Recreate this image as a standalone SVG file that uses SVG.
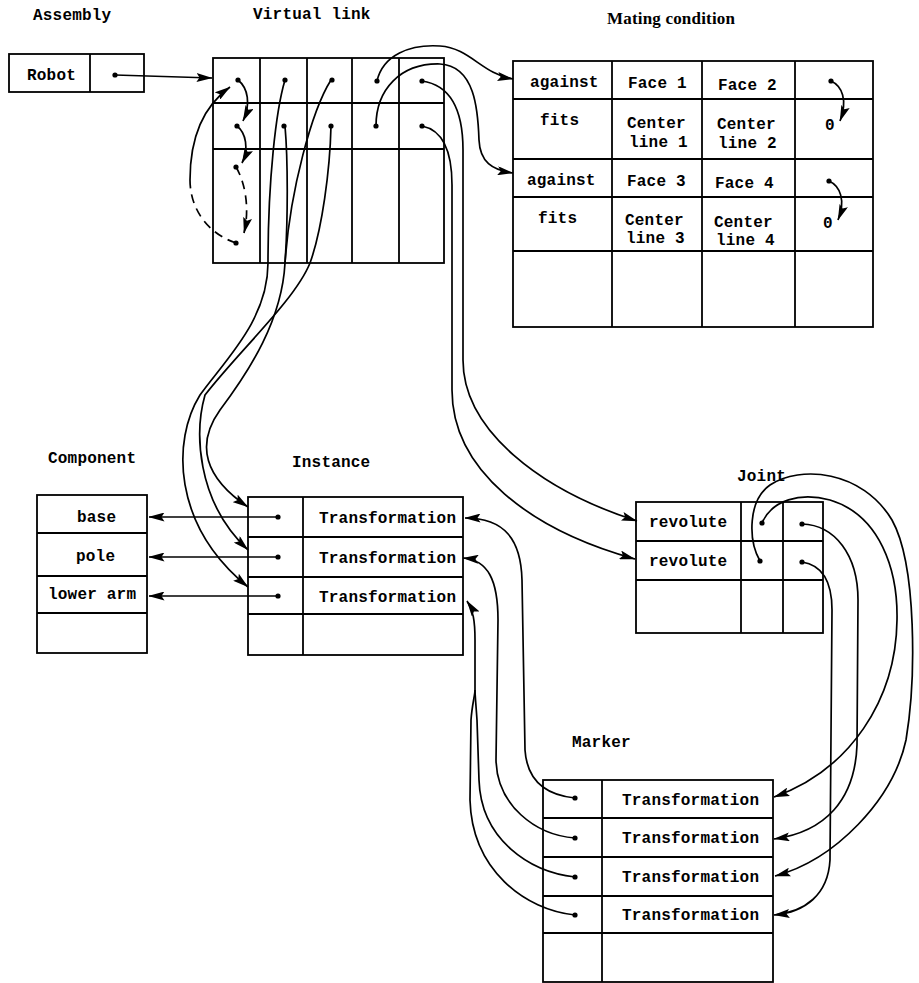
<svg xmlns="http://www.w3.org/2000/svg" width="919" height="983" viewBox="0 0 919 983">
<style>
.bg{fill:#fff}
.box{fill:none;stroke:#000;stroke-width:1.8}
.ln{stroke:#000;stroke-width:1.8}
.t{font-family:"Liberation Mono",monospace;font-weight:bold;font-size:16px;fill:#000;letter-spacing:0.2px}
.h{font-family:"Liberation Serif",serif;font-weight:bold;font-size:17px;fill:#000}
.c{fill:none;stroke:#000;stroke-width:1.7}
.d{stroke-dasharray:9 6}
.dot{fill:#000}
</style>
<defs>
<marker id="ah" viewBox="0 0 16 9" refX="15.5" refY="4.5" markerWidth="16" markerHeight="9" markerUnits="userSpaceOnUse" orient="auto">
<path d="M0,0 L16,4.5 L0,9 L3,4.5 z" fill="#000"/>
</marker>
</defs>
<rect class="bg" x="0" y="0" width="919" height="983"/>

<g id="assembly">
<text class="t" x="33" y="20">Assembly</text>
<rect class="box" x="9" y="54" width="135" height="38"/>
<line class="ln" x1="90" y1="54" x2="90" y2="92"/>
<text class="t" x="27" y="80">Robot</text>
</g>

<g id="virtual-link">
<text class="t" x="253" y="19">Virtual link</text>
<rect class="box" x="213" y="58" width="231" height="205"/>
<line class="ln" x1="260" y1="58" x2="260" y2="263"/>
<line class="ln" x1="307" y1="58" x2="307" y2="263"/>
<line class="ln" x1="352" y1="58" x2="352" y2="263"/>
<line class="ln" x1="399" y1="58" x2="399" y2="263"/>
<line class="ln" x1="213" y1="103" x2="444" y2="103"/>
<line class="ln" x1="213" y1="149" x2="444" y2="149"/>
</g>

<g id="mating-condition">
<text class="h" x="607" y="24" textLength="128" lengthAdjust="spacing">Mating condition</text>
<rect class="box" x="513" y="61" width="360" height="266"/>
<line class="ln" x1="513" y1="99" x2="873" y2="99"/>
<line class="ln" x1="513" y1="159" x2="873" y2="159"/>
<line class="ln" x1="513" y1="197" x2="873" y2="197"/>
<line class="ln" x1="513" y1="251" x2="873" y2="251"/>
<line class="ln" x1="612" y1="61" x2="612" y2="327"/>
<line class="ln" x1="702" y1="61" x2="702" y2="327"/>
<line class="ln" x1="795" y1="61" x2="795" y2="327"/>
<text class="t" x="530" y="87">against</text>
<text class="t" x="628" y="88">Face 1</text>
<text class="t" x="718" y="90">Face 2</text>
<text class="t" x="540" y="125">fits</text>
<text class="t" x="627" y="128">Center</text>
<text class="t" x="629" y="147">line 1</text>
<text class="t" x="717" y="129">Center</text>
<text class="t" x="718" y="148">line 2</text>
<text class="t" x="825" y="130">0</text>
<text class="t" x="527" y="185">against</text>
<text class="t" x="627" y="186">Face 3</text>
<text class="t" x="715" y="188">Face 4</text>
<text class="t" x="538" y="223">fits</text>
<text class="t" x="625" y="225">Center</text>
<text class="t" x="626" y="243">line 3</text>
<text class="t" x="714" y="227">Center</text>
<text class="t" x="716" y="245">line 4</text>
<text class="t" x="823" y="228">0</text>
</g>

<g id="component">
<text class="t" x="48" y="463">Component</text>
<rect class="box" x="37" y="495" width="110" height="158"/>
<line class="ln" x1="37" y1="533" x2="147" y2="533"/>
<line class="ln" x1="37" y1="576" x2="147" y2="576"/>
<line class="ln" x1="37" y1="613" x2="147" y2="613"/>
<text class="t" x="77" y="522">base</text>
<text class="t" x="76" y="561">pole</text>
<text class="t" x="48" y="599">lower arm</text>
</g>

<g id="instance">
<text class="t" x="292" y="467">Instance</text>
<rect class="box" x="248" y="497" width="215" height="158"/>
<line class="ln" x1="303" y1="497" x2="303" y2="655"/>
<line class="ln" x1="248" y1="537" x2="463" y2="537"/>
<line class="ln" x1="248" y1="577" x2="463" y2="577"/>
<line class="ln" x1="248" y1="614" x2="463" y2="614"/>
<text class="t" x="319" y="523">Transformation</text>
<text class="t" x="319" y="563">Transformation</text>
<text class="t" x="319" y="602">Transformation</text>
</g>

<g id="joint">
<text class="t" x="737" y="481">Joint</text>
<rect class="box" x="636" y="502" width="187" height="131"/>
<line class="ln" x1="741" y1="502" x2="741" y2="633"/>
<line class="ln" x1="783" y1="502" x2="783" y2="633"/>
<line class="ln" x1="636" y1="541" x2="823" y2="541"/>
<line class="ln" x1="636" y1="580" x2="823" y2="580"/>
<text class="t" x="649" y="527">revolute</text>
<text class="t" x="649" y="566">revolute</text>
</g>

<g id="marker">
<text class="t" x="572" y="747">Marker</text>
<rect class="box" x="543" y="780" width="230" height="202"/>
<line class="ln" x1="602" y1="780" x2="602" y2="982"/>
<line class="ln" x1="543" y1="818" x2="773" y2="818"/>
<line class="ln" x1="543" y1="857" x2="773" y2="857"/>
<line class="ln" x1="543" y1="896" x2="773" y2="896"/>
<line class="ln" x1="543" y1="933" x2="773" y2="933"/>
<text class="t" x="622" y="805">Transformation</text>
<text class="t" x="622" y="843">Transformation</text>
<text class="t" x="622" y="882">Transformation</text>
<text class="t" x="622" y="920">Transformation</text>
</g>

<g id="connectors">
<path class="c" marker-end="url(#ah)" d="M115,75 L212,78"/>
<path class="c" marker-end="url(#ah)" d="M238,80 C248,88 251,104 243,121"/>
<path class="c" marker-end="url(#ah)" d="M237,126 C246,133 249,149 242,163"/>
<path class="c d" marker-end="url(#ah)" d="M236,167 C245,182 250,208 244,233"/>
<path class="c d" d="M236,243 C206,233 190,207 190,180"/>
<path class="c" marker-end="url(#ah)" d="M190,180 C190,135 205,105 230,87"/>
<path class="c" marker-end="url(#ah)" d="M377,81 C383,55 410,44 440,46 C470,48 482,74 513,79"/>
<path class="c" marker-end="url(#ah)" d="M376,126 C376,90 400,63 440,64 C475,66 478,110 479,140 C480,162 492,170 513,173"/>
<path class="c" marker-end="url(#ah)" d="M422,81 C450,85 463,110 463,150 L463,360 C463,430 540,490 637,521"/>
<path class="c" marker-end="url(#ah)" d="M422,126 C442,130 452,150 452,185 L452,390 C452,470 530,530 635,559"/>
<path class="c" marker-end="url(#ah)" d="M285,80 C276,110 268,180 268,263 C268,320 225,360 200,395 C172,440 172,525 248,587"/>
<path class="c" d="M331,80 C312,110 290,190 285,263"/>
<path class="c" d="M285,126 C288,160 288,220 285,263"/>
<path class="c" marker-end="url(#ah)" d="M285,263 C282,320 250,370 220,410 C195,445 205,478 248,507"/>
<path class="c" marker-end="url(#ah)" d="M331,126 C330,170 322,230 310,263 C295,300 240,350 205,395 C195,430 195,500 248,550"/>
<path class="c" marker-end="url(#ah)" d="M278,517 L149,517"/>
<path class="c" marker-end="url(#ah)" d="M278,557 L149,557"/>
<path class="c" marker-end="url(#ah)" d="M278,596 L149,596"/>
<path class="c" marker-end="url(#ah)" d="M575,798 C545,795 527,780 525,750 L522,580 C521,540 505,518 465,518"/>
<path class="c" marker-end="url(#ah)" d="M575,838 C535,835 497,805 496,760 L498,620 C498,580 488,560 463,558"/>
<path class="c" marker-end="url(#ah)" d="M475,690 L475,640 C475,620 473,610 467,601"/>
<path class="c" d="M575,877 C530,872 481,840 479,780 L477,720 C476,705 475,695 475,690"/>
<path class="c" d="M575,915 C525,910 472,870 470,800 L471,720 C472,705 475,695 475,690"/>
<path class="c" marker-end="url(#ah)" d="M762,523 C772,500 800,492 830,500 C880,515 898,570 897,620 C896,700 850,770 774,797"/>
<path class="c" marker-end="url(#ah)" d="M760,561 C748,540 748,500 770,485 C800,465 862,470 892,520 C917,565 916,680 906,740 C893,800 835,860 775,876"/>
<path class="c" marker-end="url(#ah)" d="M802,524 C835,525 858,555 858,600 L857,745 C855,800 825,832 774,839"/>
<path class="c" marker-end="url(#ah)" d="M802,562 C822,565 832,580 832,610 L830,860 C828,895 805,912 774,915"/>
<path class="c" marker-end="url(#ah)" d="M831,81 C842,86 848,100 840,121"/>
<path class="c" marker-end="url(#ah)" d="M829,181 C840,186 846,200 838,220"/>
<g class="dot">
<circle cx="115" cy="75" r="2.6"/>
<circle cx="238" cy="80" r="2.6"/><circle cx="285" cy="80" r="2.6"/><circle cx="332" cy="80" r="2.6"/><circle cx="377" cy="81" r="2.6"/><circle cx="422" cy="81" r="2.6"/>
<circle cx="237" cy="126" r="2.6"/><circle cx="284" cy="126" r="2.6"/><circle cx="331" cy="126" r="2.6"/><circle cx="376" cy="126" r="2.6"/><circle cx="422" cy="126" r="2.6"/>
<circle cx="236" cy="167" r="2.6"/><circle cx="236" cy="243" r="2.6"/>
<circle cx="831" cy="81" r="2.6"/><circle cx="829" cy="181" r="2.6"/>
<circle cx="278" cy="517" r="2.6"/><circle cx="278" cy="557" r="2.6"/><circle cx="278" cy="596" r="2.6"/>
<circle cx="762" cy="523" r="2.6"/><circle cx="760" cy="561" r="2.6"/><circle cx="802" cy="524" r="2.6"/><circle cx="802" cy="562" r="2.6"/>
<circle cx="575" cy="798" r="2.6"/><circle cx="575" cy="838" r="2.6"/><circle cx="575" cy="877" r="2.6"/><circle cx="575" cy="915" r="2.6"/>
</g>
</g>
</svg>
